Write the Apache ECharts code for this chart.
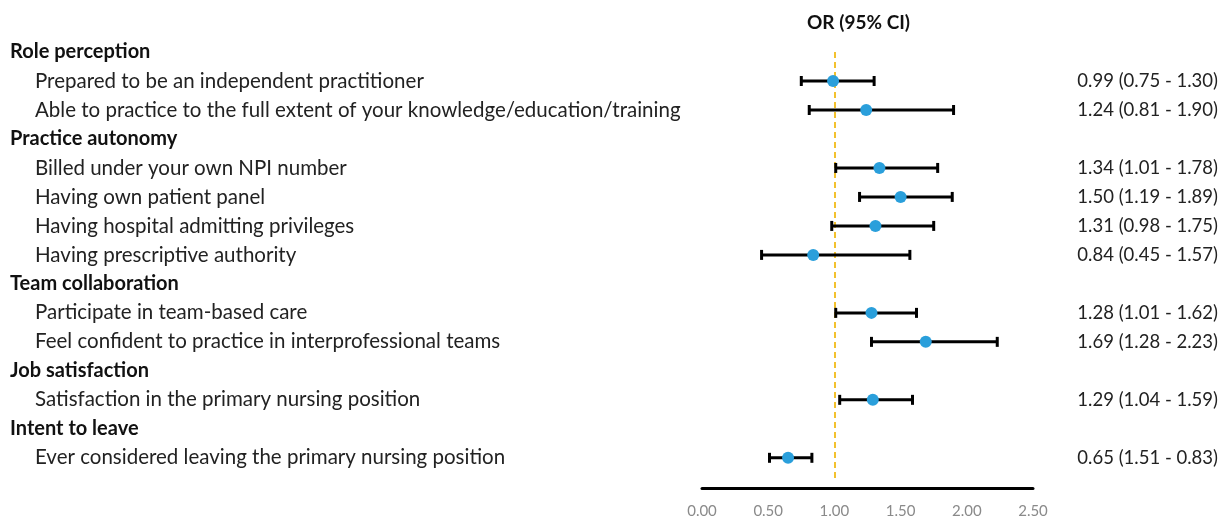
<!DOCTYPE html>
<html>
<head>
<meta charset="utf-8">
<script src="https://cdn.jsdelivr.net/npm/echarts@6/dist/echarts.min.js"></script>
<style>
html,body{margin:0;padding:0;background:#fff;}
#chart{width:1222px;height:519px;}
</style>
</head>
<body>
<div id="chart"></div>
<script>
// ---- data ----
const rowLabels = [
  'Role perception',
  'Prepared to be an independent practitioner',
  'Able to practice to the full extent of your knowledge/education/training',
  'Practice autonomy',
  'Billed under your own NPI number',
  'Having own patient panel',
  'Having hospital admitting privileges',
  'Having prescriptive authority',
  'Team collaboration',
  'Participate in team-based care',
  'Feel confident to practice in interprofessional teams',
  'Job satisfaction',
  'Satisfaction in the primary nursing position',
  'Intent to leave',
  'Ever considered leaving the primary nursing position'
];
const headerRows = [0, 3, 8, 11, 13];
const itemRows = [1, 2, 4, 5, 6, 7, 9, 10, 12, 14];
const orValues = [0.99, 1.24, 1.34, 1.50, 1.31, 0.84, 1.28, 1.69, 1.29, 0.65];
const ciLow   = [0.75, 0.81, 1.01, 1.19, 0.98, 0.45, 1.01, 1.28, 1.04, 0.51];
const ciHigh  = [1.30, 1.90, 1.78, 1.89, 1.75, 1.57, 1.62, 2.23, 1.59, 0.83];
const ciText = [
  '0.99 (0.75 - 1.30)',
  '1.24 (0.81 - 1.90)',
  '1.34 (1.01 - 1.78)',
  '1.50 (1.19 - 1.89)',
  '1.31 (0.98 - 1.75)',
  '0.84 (0.45 - 1.57)',
  '1.28 (1.01 - 1.62)',
  '1.69 (1.28 - 2.23)',
  '1.29 (1.04 - 1.59)',
  '0.65 (1.51 - 0.83)'
];
const xTicks = ['0.00', '0.50', '1.00', '1.50', '2.00', '2.50'];
const refValue = 1;
const titleText = 'OR (95% CI)';

// ---- chart ----
const FONT = 'Lato';
const chart = echarts.init(document.getElementById('chart'), null, {renderer: 'canvas'});

const pointData = itemRows.map((r, i) => [orValues[i], r]);
const barData = itemRows.map((r, i) => [r, ciLow[i], ciHigh[i]]);
const rightText = {};
itemRows.forEach((r, i) => { rightText[r] = ciText[i]; });

function leftFormatter(v) {
  if (Math.abs(v - Math.round(v)) > 1e-6) return '';
  const r = Math.round(v);
  if (r < 0 || r >= rowLabels.length) return '';
  return headerRows.indexOf(r) >= 0 ? '{h|' + rowLabels[r] + '}' : '{i|' + rowLabels[r] + '}';
}
function rightFormatter(v) {
  if (Math.abs(v - Math.round(v)) > 1e-6) return '';
  const r = Math.round(v);
  return rightText[r] || '';
}

const yCommon = {
  type: 'value', inverse: true, min: 0, max: 14.8, interval: 1,
  axisLine: {show: false}, axisTick: {show: false}, splitLine: {show: false}
};

chart.setOption({
  animation: false,
  backgroundColor: '#fff',
  title: {
    text: titleText, left: 802, top: 8,
    textStyle: {fontFamily: FONT, fontWeight: 'bold', fontSize: 19, color: '#111'}
  },
  grid: {left: 702, right: 189, top: 52, bottom: 37, containLabel: false},
  xAxis: {
    type: 'value', position: 'bottom', min: 0, max: 2.5, interval: 0.5, offset: 7,
    axisLine: {show: true, onZero: false, lineStyle: {color: '#000', width: 3}},
    axisTick: {show: false}, splitLine: {show: false},
    axisLabel: {
      margin: 16, color: '#8a8a8a', fontFamily: FONT, fontSize: 15,
      formatter: (v) => xTicks[Math.round(v / 0.5)] || ''
    }
  },
  yAxis: [
    Object.assign({}, yCommon, {
      position: 'left',
      axisLabel: {
        align: 'left', margin: 692, formatter: leftFormatter,
        rich: {
          h: {fontFamily: FONT, fontWeight: 'bold', fontSize: 20, color: '#111'},
          i: {fontFamily: FONT, fontSize: 20.5, color: '#222', padding: [0, 0, 0, 25]}
        }
      }
    }),
    Object.assign({}, yCommon, {
      position: 'right',
      axisLabel: {
        align: 'right', margin: 185, formatter: rightFormatter,
        fontFamily: FONT, fontSize: 18.5, color: '#222'
      }
    })
  ],
  series: [
    {
      type: 'custom',
      yAxisIndex: 0,
      encode: {x: [1, 2], y: 0},
      data: barData,
      renderItem: function (params, api) {
        const row = api.value(0);
        const a = api.coord([api.value(1), row]);
        const b = api.coord([api.value(2), row]);
        const h = 5;
        const st = {stroke: '#000', lineWidth: 3};
        return {
          type: 'group',
          children: [
            {type: 'line', shape: {x1: a[0], y1: a[1], x2: b[0], y2: b[1]}, style: st},
            {type: 'line', shape: {x1: a[0], y1: a[1] - h, x2: a[0], y2: a[1] + h}, style: st},
            {type: 'line', shape: {x1: b[0], y1: b[1] - h, x2: b[0], y2: b[1] + h}, style: st}
          ]
        };
      },
      z: 3
    },
    {
      type: 'scatter',
      yAxisIndex: 0,
      data: pointData,
      symbol: 'circle',
      symbolSize: 12,
      itemStyle: {color: '#2A9FDB', opacity: 1},
      z: 5,
      markLine: {
        silent: true, symbol: 'none', label: {show: false},
        lineStyle: {color: '#F2C12E', type: [6, 4], width: 2},
        data: [{xAxis: refValue}],
        z: 1
      }
    }
  ]
});
</script>
</body>
</html>
